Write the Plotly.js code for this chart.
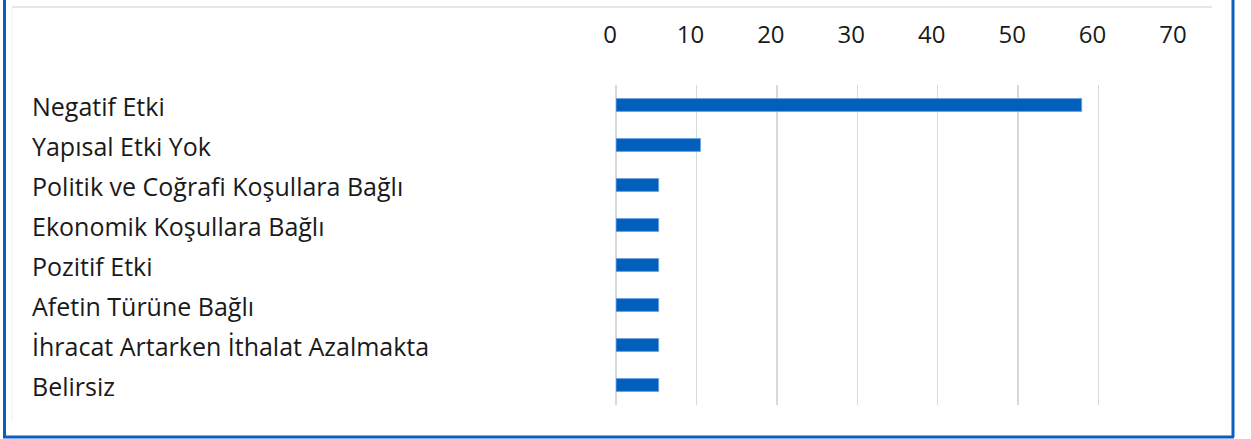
<!DOCTYPE html>
<html>
<head>
<meta charset="utf-8">
<script src="https://cdn.plot.ly/plotly-3.0.1.min.js"></script>
<style>html,body{margin:0;padding:0;background:#fff;}#chart{width:1251px;height:439px;}</style>
</head>
<body>
<div id="chart"></div>
<script>
var categories = ["Negatif Etki","Yapısal Etki Yok","Politik ve Coğrafi Koşullara Bağlı","Ekonomik Koşullara Bağlı","Pozitif Etki","Afetin Türüne Bağlı","İhracat Artarken İthalat Azalmakta","Belirsiz"];
var values = [57.9, 10.5, 5.3, 5.3, 5.3, 5.3, 5.3, 5.3];
var tickVals = [0,10,20,30,40,50,60,70];

var W = 1251, H = 439, L = 616, R = 1179, T = 85, B = 405;
function xp(px){ return (px - L) / (R - L); }
function yp(py){ return (B - py) / (B - T); }

var trace = {
  type: 'bar', orientation: 'h',
  x: values, y: categories,
  width: 0.32,
  marker: {color: '#005ebd', line: {color: '#6f9fdc', width: 1}},
  hoverinfo: 'x+y'
};

var annotations = categories.map(function(c){
  return {xref:'paper', yref:'y', x: xp(30), y: c, xanchor:'left', yanchor:'middle',
    text: c, showarrow:false, yshift: -1,
    font:{family:'Open Sans', size:25, color:'#1a1a1a'}};
});

var blue = '#0b5ec0';
var shapes = [
  {type:'line', xref:'paper', yref:'paper', x0:xp(12), x1:xp(1212), y0:yp(7), y1:yp(7), line:{color:'#dcdcdc', width:1.5}},
  {type:'line', xref:'paper', yref:'paper', x0:xp(12), x1:xp(12), y0:yp(7), y1:yp(421), line:{color:'#efefef', width:1}},
  {type:'line', xref:'paper', yref:'paper', x0:xp(4.5), x1:xp(4.5), y0:yp(-2), y1:yp(437), line:{color:blue, width:3}},
  {type:'line', xref:'paper', yref:'paper', x0:xp(3), x1:xp(1234), y0:yp(437), y1:yp(437), line:{color:blue, width:3}},
  {type:'line', xref:'paper', yref:'paper', x0:xp(1233), x1:xp(1233), y0:yp(-2), y1:yp(437), line:{color:blue, width:3}}
];

var layout = {
  width: W, height: H,
  margin: {l: L, r: W - R, t: T, b: H - B, pad: 0},
  paper_bgcolor: '#fff', plot_bgcolor: '#fff',
  showlegend: false,
  font: {family: 'Open Sans', color: '#1a1a1a'},
  xaxis: {
    side: 'top', range: [0, 70], tickvals: tickVals, ticktext: tickVals.map(String),
    showgrid: true, gridcolor: '#d9d9d9', gridwidth: 1.5,
    zeroline: true, zerolinecolor: '#d9d9d9', zerolinewidth: 1.5,
    showline: false, ticks: '', ticklabelstandoff: 36, ticklabelshift: -6,
    tickfont: {family: 'Open Sans', size: 24, color: '#1a1a1a'},
    fixedrange: true
  },
  yaxis: {
    autorange: 'reversed', showticklabels: false, showgrid: false, zeroline: false,
    showline: false, ticks: '', fixedrange: true
  },
  annotations: annotations,
  shapes: shapes
};

Plotly.newPlot('chart', [trace], layout, {displayModeBar: false, staticPlot: true});
</script>
</body>
</html>
